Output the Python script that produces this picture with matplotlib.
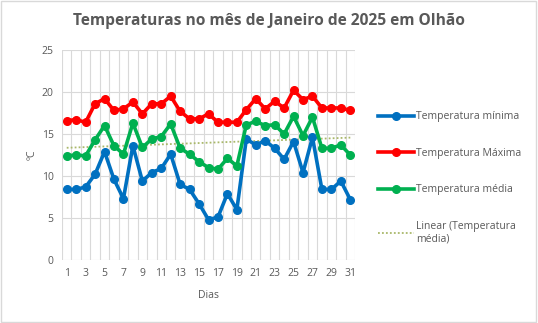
#!/usr/bin/env python3
"""Temperaturas diárias em Olhão, Janeiro de 2025 (estilo gráfico Excel)."""
import matplotlib
matplotlib.use('Agg')
import matplotlib.pyplot as plt
from matplotlib.patches import Rectangle
import numpy as np

plt.rcParams['font.family'] = ['Open Sans', 'DejaVu Sans']

dias = list(range(1, 32))
temp_min = [8.4, 8.4, 8.7, 10.2, 12.9, 9.6, 7.3, 13.6, 9.4, 10.4, 10.9, 12.6, 9.0,
            8.4, 6.7, 4.8, 5.1, 7.9, 6.0, 14.4, 13.7, 14.2, 13.3, 12.0, 14.1, 10.4,
            14.6, 8.4, 8.4, 9.4, 7.2]
temp_max = [16.6, 16.7, 16.4, 18.6, 19.2, 17.8, 18.0, 18.8, 17.4, 18.6, 18.6, 19.5,
            17.7, 16.8, 16.8, 17.4, 16.4, 16.4, 16.4, 17.9, 19.2, 18.0, 18.9, 18.1,
            20.2, 19.1, 19.5, 18.1, 18.1, 18.1, 17.8]
temp_med = [12.4, 12.5, 12.4, 14.3, 16.0, 13.6, 12.6, 16.3, 13.4, 14.4, 14.7, 16.2,
            13.3, 12.6, 11.7, 11.0, 10.8, 12.1, 11.2, 16.1, 16.5, 16.0, 16.1, 15.0,
            17.1, 14.8, 17.0, 13.3, 13.3, 13.7, 12.5]

BLUE = '#0070C0'
RED = '#FF0000'
GREEN = '#00B050'
TREND = '#A9B86A'
GRID = '#D9D9D9'
TXT = '#595959'

fig = plt.figure(figsize=(5.38, 3.23), dpi=100)
ax = fig.add_axes([62 / 538, 63 / 323, 293 / 538, 210 / 323])

x = np.array(dias)
style = dict(marker='o', markersize=5.5, linewidth=2.6)
l1, = ax.plot(x, temp_min, color=BLUE, label='Temperatura mínima', **style)
l2, = ax.plot(x, temp_max, color=RED, label='Temperatura Máxima', **style)
l3, = ax.plot(x, temp_med, color=GREEN, label='Temperatura média', **style)

# linear trendline of the mean temperature
coef = np.polyfit(x, temp_med, 1)
l4, = ax.plot(x, np.polyval(coef, x), color=TREND, linestyle=(0, (1, 1.2)),
              linewidth=1.3, label='Linear (Temperatura\nmédia)', zorder=1)

ax.set_xlim(0.5, 31.5)
ax.set_ylim(0, 25)
ax.set_yticks(range(0, 26, 5))
ax.set_xticks(range(1, 32, 2))
ax.set_xticks(np.arange(0.5, 32, 1), minor=True)
ax.grid(False)
ax.grid(True, which='minor', axis='x', color=GRID, linewidth=0.8)
ax.grid(True, which='major', axis='y', color=GRID, linewidth=0.8)
ax.set_axisbelow(True)
ax.tick_params(which='both', length=0, colors=TXT, labelsize=7.5, pad=6)
for s in ax.spines.values():
    s.set_visible(False)

ax.set_xlabel('Dias', color=TXT, fontsize=7.5, labelpad=8)
ax.set_ylabel('ºC', color=TXT, fontsize=7.5, labelpad=3)

fig.text(0.5, 0.935, 'Temperaturas no mês de Janeiro de 2025 em Olhão',
         ha='center', va='center', fontsize=11.2, fontweight='bold', color=TXT)

fig.legend(handles=[l1, l2, l3, l4], loc='upper left',
           bbox_to_anchor=(374 / 538, 1 - 107 / 323), frameon=False,
           fontsize=7.5, labelcolor=TXT, handlelength=3.4, handletextpad=0.25,
           labelspacing=2.45, borderaxespad=0)

fig.patches.append(Rectangle((0.002, 0.003), 0.995, 0.994, transform=fig.transFigure,
                             fill=False, edgecolor='#D9D9D9', linewidth=1))

fig.savefig('out.png', dpi=100)
